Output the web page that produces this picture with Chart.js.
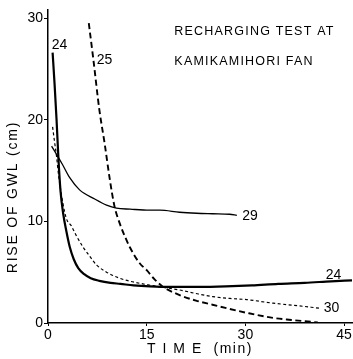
<!DOCTYPE html>
<html>
<head>
<meta charset="utf-8">
<script src="https://cdn.jsdelivr.net/npm/chart.js@4.4.1/dist/chart.umd.min.js"></script>
<style>
  html, body { margin: 0; padding: 0; background: #fff; }
  #wrap { width: 353px; height: 359px; position: relative; }
</style>
</head>
<body>
<div id="wrap"><canvas id="c" width="353" height="359"></canvas></div>
<script>
// Recharging test at the Kamikamihori fan: rise of groundwater level over time
const xTicks = [0, 15, 30, 45];
const yTicks = [0, 10, 20, 30];

// Well 24 (solid, heavy)
const t24 = [0.7, 1.0, 1.3, 1.6, 1.9, 2.3, 2.8, 3.3, 3.9, 4.6, 5.5, 6.5, 7.8, 9.5, 11, 13, 15.5, 19, 23, 27, 31, 35, 39, 43, 46.2];
const v24 = [26.6, 23.5, 20.0, 16.0, 13.0, 10.8, 9.0, 7.5, 6.3, 5.4, 4.8, 4.4, 4.15, 3.95, 3.85, 3.7, 3.6, 3.55, 3.55, 3.6, 3.7, 3.85, 3.95, 4.1, 4.2];

// Well 29 (solid, light)
const t29 = [0.55, 1.3, 2.2, 3.3, 4.8, 7.1, 8.9, 10.4, 12.5, 15.4, 17, 20, 22.6, 25, 27.6, 28.7];
const v29 = [17.4, 16.6, 15.6, 14.3, 13.1, 12.2, 11.6, 11.3, 11.2, 11.1, 11.1, 10.9, 10.8, 10.75, 10.7, 10.6];

// Well 30 (short dashes)
const t30 = [0.7, 1.0, 1.3, 1.6, 2.0, 2.5, 2.9, 3.5, 4.3, 5.3, 6.3, 7.4, 8.9, 10.9, 12.5, 14.4, 17, 20, 22.5, 25, 28, 30.2, 34.2, 38, 41.3];
const v30 = [19.3, 17.8, 16.4, 14.6, 12.8, 11.0, 10.1, 9.6, 8.6, 7.5, 6.6, 5.7, 5.0, 4.4, 4.1, 3.85, 3.55, 3.25, 2.9, 2.6, 2.4, 2.3, 1.95, 1.7, 1.45];

// Well 25 (long dashes)
const t25 = [6.2, 6.9, 7.8, 8.6, 9.4, 10.1, 10.9, 11.9, 12.4, 13.9, 15, 16.2, 17.4, 20, 22.5, 25, 27.5, 30.2, 34.2, 37, 40.2, 41];
const v25 = [29.5, 25.9, 21.0, 17.7, 14.1, 11.5, 9.8, 8.2, 7.5, 5.9, 5.2, 4.3, 3.6, 2.75, 2.2, 1.8, 1.4, 1.0, 0.5, 0.3, 0.1, 0.05];

// Curve labels, in data units
const curveLabels = [
  { text: '24', x: 1.75, y: 27.3 },
  { text: '25', x: 8.6, y: 25.9 },
  { text: '29', x: 30.7, y: 10.5 },
  { text: '24', x: 43.4, y: 4.7 },
  { text: '30', x: 43.1, y: 1.5 }
];
const titleLines = ['RECHARGING TEST AT', 'KAMIKAMIHORI FAN'];
const xTitle = 'T I M E  (min)';
const yTitle = 'RISE OF GWL (cm)';

const pts = (ts, vs) => ts.map((t, i) => ({ x: t, y: vs[i] }));

const FONT = '"Liberation Sans", Arial, sans-serif';

const textPlugin = {
  id: 'texts',
  afterDraw(chart) {
    const { ctx, scales: { x, y }, chartArea } = chart;
    ctx.save();
    ctx.fillStyle = '#000';
    ctx.textAlign = 'center';
    ctx.textBaseline = 'middle';
    ctx.font = '14px ' + FONT;
    curveLabels.forEach(l => {
      ctx.fillText(l.text, x.getPixelForValue(l.x), y.getPixelForValue(l.y));
    });
    // title block, left aligned
    ctx.textAlign = 'left';
    ctx.font = '12.5px ' + FONT;
    ctx.letterSpacing = '1.2px';
    ctx.fillText(titleLines[0], x.getPixelForValue(19.2), y.getPixelForValue(28.7));
    ctx.fillText(titleLines[1], x.getPixelForValue(19.2), y.getPixelForValue(25.7));
    // axis titles
    ctx.textAlign = 'center';
    ctx.font = '14px ' + FONT;
    ctx.letterSpacing = '1.5px';
    ctx.fillText(xTitle, (chartArea.left + chartArea.right) / 2, 349);
    ctx.translate(13, 197);
    ctx.rotate(-Math.PI / 2);
    ctx.letterSpacing = '1.8px';
    ctx.fillText(yTitle, 0, 0);
    ctx.restore();
  }
};

const ds = (label, data, width, dash) => ({
  label, data,
  borderColor: '#000',
  borderWidth: width,
  borderDash: dash,
  pointRadius: 0,
  fill: false,
  cubicInterpolationMode: 'monotone'
});

new Chart(document.getElementById('c'), {
  type: 'line',
  data: {
    datasets: [
      ds('24', pts(t24, v24), 2.2, []),
      ds('29', pts(t29, v29), 1.3, []),
      ds('30', pts(t30, v30), 1.2, [3, 2.5]),
      ds('25', pts(t25, v25), 1.9, [6, 3.5])
    ]
  },
  options: {
    responsive: false,
    animation: false,
    events: [],
    layout: { padding: { top: 10, right: 1, left: 0, bottom: 0 } },
    plugins: { legend: { display: false }, tooltip: { enabled: false } },
    scales: {
      x: {
        type: 'linear',
        min: 0, max: 46.2,
        afterBuildTicks: s => { s.ticks = xTicks.map(v => ({ value: v })); },
        afterFit: s => { s.height = 36; },
        grid: { drawOnChartArea: false, drawTicks: true, tickLength: 3, color: '#000' },
        border: { display: true, color: '#000', width: 1.5 },
        ticks: { color: '#000', font: { family: FONT, size: 14 }, padding: 1, maxRotation: 0 }
      },
      y: {
        type: 'linear',
        min: 0, max: 30.8,
        afterBuildTicks: s => { s.ticks = yTicks.map(v => ({ value: v })); },
        afterFit: s => { s.width = 48; },
        grid: { drawOnChartArea: false, drawTicks: true, tickLength: 4, color: '#000' },
        border: { display: true, color: '#000', width: 1.5 },
        ticks: { color: '#000', font: { family: FONT, size: 14 }, padding: 1 }
      }
    }
  },
  plugins: [textPlugin]
});
</script>
</body>
</html>
